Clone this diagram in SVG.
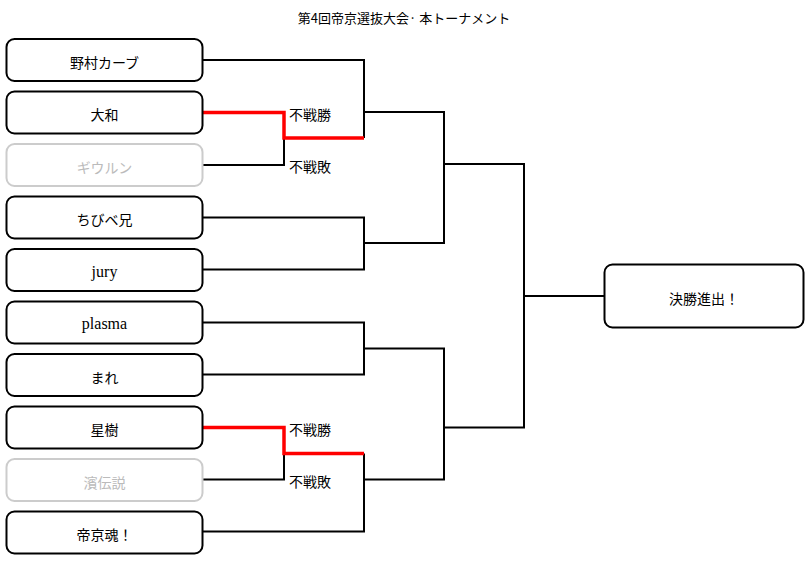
<svg xmlns="http://www.w3.org/2000/svg" width="807" height="563" viewBox="0 0 807 563">
<style>
.box{fill:#fff;stroke:#000;stroke-width:2}
.off{fill:#fff;stroke:#ccc;stroke-width:2}
.t{font-family:"Noto Sans CJK JP","Liberation Sans",sans-serif;font-size:14px;text-anchor:middle;fill:#000}
.tg{font-family:"Noto Sans CJK JP","Liberation Sans",sans-serif;font-size:14px;text-anchor:middle;fill:#bbb}
.ts{font-family:"Liberation Serif",serif;font-size:16px;text-anchor:middle;fill:#000}
.lbl{font-family:"Noto Sans CJK JP","Liberation Sans",sans-serif;font-size:14px;fill:#000}
.ln{fill:none;stroke:#000;stroke-width:2}
.red{fill:none;stroke:#f00;stroke-width:3.5}
</style>
<rect width="807" height="563" fill="#fff"/>
<text x="404" y="23" class="t" style="font-size:13px">第4回帝京選抜大会· 本トーナメント</text>
<g id="connectors">
<polyline class="ln" points="203,60 364,60 364,138"/>
<polyline class="ln" points="203,165 284,165 284,138"/>
<polyline class="ln" points="364,112 444,112 444,243 364,243"/>
<polyline class="ln" points="203,217.5 364,217.5 364,269.5 203,269.5"/>
<polyline class="ln" points="203,322.5 364,322.5 364,374.5 203,374.5"/>
<polyline class="ln" points="364,348.5 444,348.5 444,479.5 364,479.5"/>
<polyline class="ln" points="203,479.5 284,479.5 284,453.5"/>
<polyline class="ln" points="364,453.5 364,531.5 203,531.5"/>
<polyline class="ln" points="444,164 524,164 524,427.5 444,427.5"/>
<line class="ln" x1="524" y1="296" x2="604" y2="296"/>
<polyline class="red" points="203,112.5 284,112.5 284,138 364,138"/>
<polyline class="red" points="203,427.5 284,427.5 284,453.5 364,453.5"/>
<text x="289" y="120" class="lbl">不戦勝</text>
<text x="289" y="172" class="lbl">不戦敗</text>
<text x="289" y="435" class="lbl">不戦勝</text>
<text x="289" y="487" class="lbl">不戦敗</text>
</g>
<g id="n1"><rect class="box" x="6.5" y="39" width="196" height="42" rx="8"/><text x="104.5" y="67.5" class="t">野村カーブ</text></g>
<g id="n2"><rect class="box" x="6.5" y="91.5" width="196" height="42" rx="8"/><text x="104.5" y="120" class="t">大和</text></g>
<g id="n3"><rect class="off" x="6.5" y="144" width="196" height="42" rx="8"/><text x="104.5" y="172.5" class="tg">ギウルン</text></g>
<g id="n4"><rect class="box" x="6.5" y="196.5" width="196" height="42" rx="8"/><text x="104.5" y="225" class="t">ちびベ兄</text></g>
<g id="n5"><rect class="box" x="6.5" y="249" width="196" height="42" rx="8"/><text x="104.5" y="276.5" class="ts">jury</text></g>
<g id="n6"><rect class="box" x="6.5" y="301.5" width="196" height="42" rx="8"/><text x="104.5" y="329" class="ts">plasma</text></g>
<g id="n7"><rect class="box" x="6.5" y="354" width="196" height="42" rx="8"/><text x="104.5" y="382.5" class="t">まれ</text></g>
<g id="n8"><rect class="box" x="6.5" y="406.5" width="196" height="42" rx="8"/><text x="104.5" y="435" class="t">星樹</text></g>
<g id="n9"><rect class="off" x="6.5" y="459" width="196" height="42" rx="8"/><text x="104.5" y="487.5" class="tg">濱伝説</text></g>
<g id="n10"><rect class="box" x="6.5" y="511.5" width="196" height="42" rx="8"/><text x="104.5" y="540" class="t">帝京魂！</text></g>
<g id="final"><rect class="box" x="604.5" y="264.5" width="199" height="63" rx="8"/><text x="704" y="303.5" class="t">決勝進出！</text></g>
</svg>
